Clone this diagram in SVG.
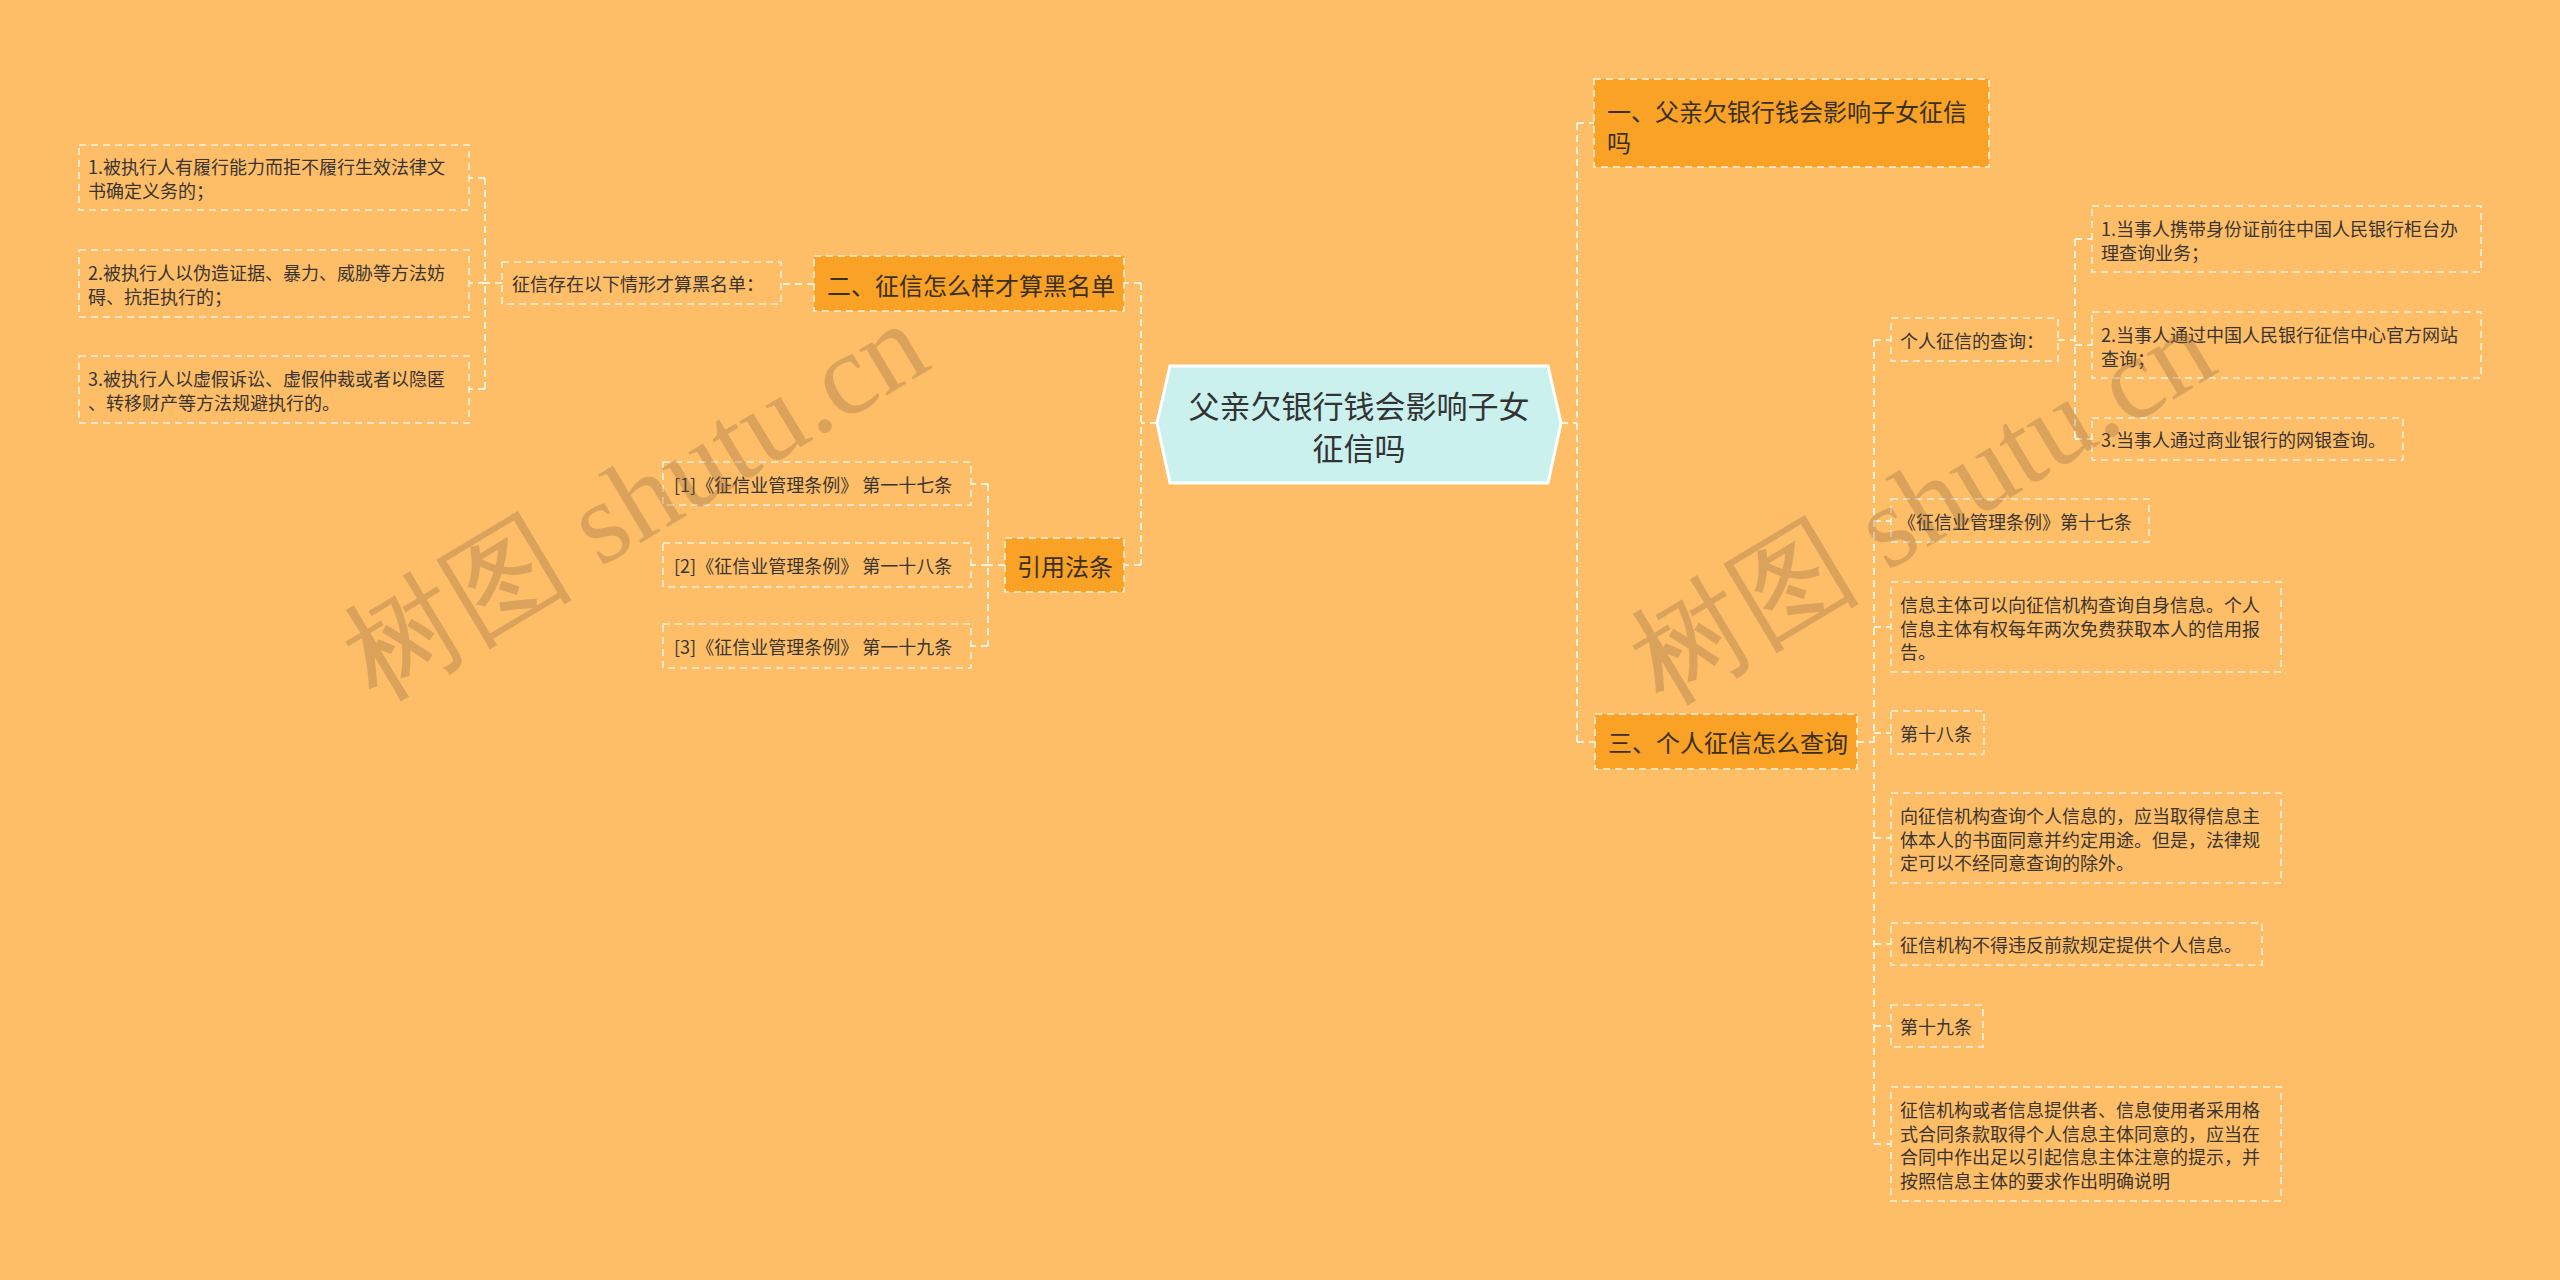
<svg xmlns="http://www.w3.org/2000/svg" width="2560" height="1280" viewBox="0 0 2560 1280">
<style>
.bg{fill:#FEBE68}
.box{fill:none;stroke:#FFF3DE;stroke-width:1.6;stroke-dasharray:7 5}
.obox{fill:#F9A225;stroke:#FFF3DE;stroke-width:1.6;stroke-dasharray:7 5}
.t{font-family:"Noto Sans CJK SC","Noto Sans",sans-serif;font-size:18px;fill:#3a3530;dominant-baseline:central}
.ot{font-family:"Noto Sans CJK SC","Noto Sans",sans-serif;font-size:24px;fill:#3a3020;dominant-baseline:central}
.ct{font-family:"Noto Sans CJK SC","Noto Sans",sans-serif;font-size:31px;fill:#333;dominant-baseline:central;text-anchor:middle}
.c{fill:none;stroke:#FFF3DE;stroke-width:2;stroke-dasharray:7 5}
.wm{font-family:"Liberation Serif","DejaVu Serif",serif;font-size:116px;fill:#8a6440;opacity:0.3}
</style>
<rect class="bg" x="0" y="0" width="2560" height="1280"/>
<g id="connectors">
<path class="c" d="M1157 423H1141M1141 283V565M1141 283H1124M1141 565H1124"/>
<path class="c" d="M814 284H781"/>
<path class="c" d="M502 283H485M485 178V389M485 178H469M485 283H469M485 389H469"/>
<path class="c" d="M1005 565H988M988 484V646M988 484H971M988 565H971M988 646H971"/>
<path class="c" d="M1561 423H1577M1577 123V742M1577 123H1594M1577 742H1595"/>
<path class="c" d="M1857 742H1874M1874 340V1144M1874 340H1891M1874 521H1891M1874 627H1891M1874 733H1891M1874 838H1891M1874 944H1891M1874 1026H1891M1874 1144H1891"/>
<path class="c" d="M2058 340H2075M2075 239V439M2075 239H2092M2075 345H2092M2075 439H2092"/>
</g>
<g id="center">
<polygon points="1157,423 1170,366 1548,366 1561,423 1548,483 1170,483" fill="#CBF1EF" stroke="#FFFFFF" stroke-width="3"/>
<text class="ct" x="1359" y="404">父亲欠银行钱会影响子女</text>
<text class="ct" x="1359" y="446">征信吗</text>
</g>
<g id="n-er">
<rect class="obox" x="814" y="256" width="310" height="55"/>
<text class="ot" x="827" y="284">二、征信怎么样才算黑名单</text>
</g>
<g id="n-q">
<rect class="box" x="502" y="262" width="279" height="42"/>
<text class="t" x="512" y="283">征信存在以下情形才算黑名单：</text>
</g>
<g id="n-l1">
<rect class="box" x="79" y="145" width="390" height="65"/>
<text class="t" x="88" y="166">1.被执行人有履行能力而拒不履行生效法律文</text>
<text class="t" x="88" y="190">书确定义务的；</text>
</g>
<g id="n-l2">
<rect class="box" x="79" y="250" width="390" height="67"/>
<text class="t" x="88" y="272">2.被执行人以伪造证据、暴力、威胁等方法妨</text>
<text class="t" x="88" y="296">碍、抗拒执行的；</text>
</g>
<g id="n-l3">
<rect class="box" x="79" y="356" width="390" height="67"/>
<text class="t" x="88" y="378">3.被执行人以虚假诉讼、虚假仲裁或者以隐匿</text>
<text class="t" x="88" y="402">、转移财产等方法规避执行的。</text>
</g>
<g id="n-yy">
<rect class="obox" x="1005" y="538" width="119" height="54"/>
<text class="ot" x="1017" y="565">引用法条</text>
</g>
<g id="n-r1">
<rect class="box" x="663" y="462" width="308" height="43"/>
<text class="t" x="674" y="484">[1]《征信业管理条例》 第一十七条</text>
</g>
<g id="n-r2">
<rect class="box" x="663" y="543" width="308" height="44"/>
<text class="t" x="674" y="565">[2]《征信业管理条例》 第一十八条</text>
</g>
<g id="n-r3">
<rect class="box" x="663" y="624" width="308" height="44"/>
<text class="t" x="674" y="646">[3]《征信业管理条例》 第一十九条</text>
</g>
<g id="n-yi">
<rect class="obox" x="1594" y="79" width="395" height="88"/>
<text class="ot" x="1607" y="110">一、父亲欠银行钱会影响子女征信</text>
<text class="ot" x="1607" y="141">吗</text>
</g>
<g id="n-san">
<rect class="obox" x="1595" y="714" width="262" height="55"/>
<text class="ot" x="1608" y="741">三、个人征信怎么查询</text>
</g>
<g id="n-gr">
<rect class="box" x="1891" y="318" width="167" height="43"/>
<text class="t" x="1900" y="340">个人征信的查询：</text>
</g>
<g id="n-q1">
<rect class="box" x="2092" y="206" width="389" height="66"/>
<text class="t" x="2101" y="228">1.当事人携带身份证前往中国人民银行柜台办</text>
<text class="t" x="2101" y="252">理查询业务；</text>
</g>
<g id="n-q2">
<rect class="box" x="2092" y="312" width="389" height="66"/>
<text class="t" x="2101" y="334">2.当事人通过中国人民银行征信中心官方网站</text>
<text class="t" x="2101" y="358">查询；</text>
</g>
<g id="n-q3">
<rect class="box" x="2092" y="418" width="311" height="42"/>
<text class="t" x="2101" y="439">3.当事人通过商业银行的网银查询。</text>
</g>
<g id="n-t1">
<rect class="box" x="1891" y="499" width="258" height="43"/>
<text class="t" x="1898" y="521">《征信业管理条例》第十七条</text>
</g>
<g id="n-t2">
<rect class="box" x="1891" y="582" width="390" height="90"/>
<text class="t" x="1900" y="604">信息主体可以向征信机构查询自身信息。个人</text>
<text class="t" x="1900" y="628">信息主体有权每年两次免费获取本人的信用报</text>
<text class="t" x="1900" y="651">告。</text>
</g>
<g id="n-t3">
<rect class="box" x="1891" y="711" width="93" height="43"/>
<text class="t" x="1900" y="733">第十八条</text>
</g>
<g id="n-t4">
<rect class="box" x="1891" y="793" width="390" height="90"/>
<text class="t" x="1900" y="815">向征信机构查询个人信息的，应当取得信息主</text>
<text class="t" x="1900" y="839">体本人的书面同意并约定用途。但是，法律规</text>
<text class="t" x="1900" y="862">定可以不经同意查询的除外。</text>
</g>
<g id="n-t5">
<rect class="box" x="1891" y="923" width="371" height="42"/>
<text class="t" x="1900" y="944">征信机构不得违反前款规定提供个人信息。</text>
</g>
<g id="n-t6">
<rect class="box" x="1891" y="1005" width="92" height="42"/>
<text class="t" x="1900" y="1026">第十九条</text>
</g>
<g id="n-t7">
<rect class="box" x="1891" y="1087" width="390" height="114"/>
<text class="t" x="1900" y="1109">征信机构或者信息提供者、信息使用者采用格</text>
<text class="t" x="1900" y="1133">式合同条款取得个人信息主体同意的，应当在</text>
<text class="t" x="1900" y="1156">合同中作出足以引起信息主体注意的提示，并</text>
<text class="t" x="1900" y="1180">按照信息主体的要求作出明确说明</text>
</g>
<g id="watermark">
<text class="wm" transform="translate(376,702) rotate(-31)">树图 shutu.cn</text>
<text class="wm" transform="translate(1663,706) rotate(-31)">树图 shutu.cn</text>
</g>
</svg>
